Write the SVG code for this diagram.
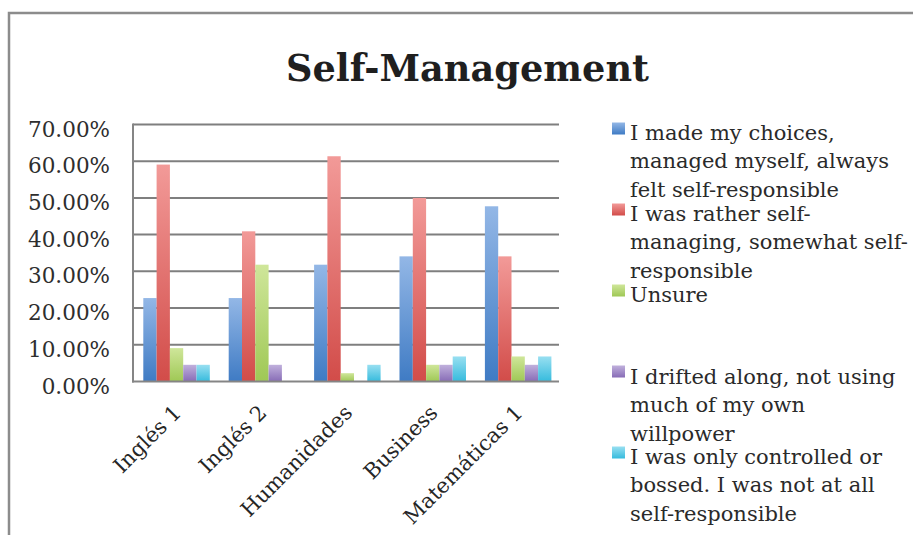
<svg xmlns="http://www.w3.org/2000/svg" width="913" height="535" viewBox="0 0 913 535">
  <style>
    .title { font-family: "DejaVu Serif", "Liberation Serif", serif; font-weight: bold; font-size: 38px; fill: #1f1f1f; }
    .ylab { font-family: "DejaVu Serif", "Liberation Serif", serif; font-size: 21.5px; fill: #2e2e2e; text-anchor: end; }
    .xlab { font-family: "DejaVu Serif", "Liberation Serif", serif; font-size: 21px; fill: #262626; text-anchor: end; }
    .leg { font-family: "DejaVu Serif", "Liberation Serif", serif; font-size: 21px; fill: #2a2a2a; }
    .grid { stroke: #7f7f7f; stroke-width: 2; fill: none; }
    .axis { stroke: #858585; stroke-width: 2; fill: none; }
    .frame { stroke: #8c8c8c; stroke-width: 2.5; fill: none; }
  </style>
  <defs>
    <linearGradient id="gb" x1="0" y1="0" x2="0" y2="1">
      <stop offset="0" stop-color="#93b7e6"/>
      <stop offset="1" stop-color="#3f7bc4"/>
    </linearGradient>
    <linearGradient id="gr" x1="0" y1="0" x2="0" y2="1">
      <stop offset="0" stop-color="#f29a98"/>
      <stop offset="1" stop-color="#d24c49"/>
    </linearGradient>
    <linearGradient id="gg" x1="0" y1="0" x2="0" y2="1">
      <stop offset="0" stop-color="#cfe69a"/>
      <stop offset="1" stop-color="#9fc855"/>
    </linearGradient>
    <linearGradient id="gp" x1="0" y1="0" x2="0" y2="1">
      <stop offset="0" stop-color="#c0b0dc"/>
      <stop offset="1" stop-color="#876cb6"/>
    </linearGradient>
    <linearGradient id="gc" x1="0" y1="0" x2="0" y2="1">
      <stop offset="0" stop-color="#98dff1"/>
      <stop offset="1" stop-color="#36bbdd"/>
    </linearGradient>
  </defs>

  <rect x="0" y="0" width="913" height="535" fill="#ffffff"/>
  <path class="frame" d="M9,540 V13 H916"/>

  <g id="title">
    <text class="title" x="467.5" y="81" text-anchor="middle" textLength="363" lengthAdjust="spacingAndGlyphs">Self-Management</text>
  </g>

  <g id="gridlines">
    <line class="grid" x1="133" y1="124.5" x2="559" y2="124.5"/>
    <line class="grid" x1="133" y1="161.2" x2="559" y2="161.2"/>
    <line class="grid" x1="133" y1="197.9" x2="559" y2="197.9"/>
    <line class="grid" x1="133" y1="234.6" x2="559" y2="234.6"/>
    <line class="grid" x1="133" y1="271.3" x2="559" y2="271.3"/>
    <line class="grid" x1="133" y1="308.1" x2="559" y2="308.1"/>
    <line class="grid" x1="133" y1="344.8" x2="559" y2="344.8"/>
  </g>

  <g id="y-axis">
    <line class="axis" x1="133" y1="123.5" x2="133" y2="382.5"/>
    <text class="ylab" x="110" y="136.5">70.00%</text>
    <text class="ylab" x="110" y="173.2">60.00%</text>
    <text class="ylab" x="110" y="209.9">50.00%</text>
    <text class="ylab" x="110" y="246.6">40.00%</text>
    <text class="ylab" x="110" y="283.3">30.00%</text>
    <text class="ylab" x="110" y="320.1">20.00%</text>
    <text class="ylab" x="110" y="356.8">10.00%</text>
    <text class="ylab" x="110" y="393.5">0.00%</text>
  </g>

  <g id="series-made-choices" fill="url(#gb)">
    <rect x="143.3" y="298.06" width="13.3" height="83.44"/>
    <rect x="228.7" y="298.06" width="13.3" height="83.44"/>
    <rect x="314.1" y="264.69" width="13.3" height="116.81"/>
    <rect x="399.5" y="256.36" width="13.3" height="125.14"/>
    <rect x="484.9" y="206.28" width="13.3" height="175.22"/>
  </g>
  <g id="series-rather-self-managing" fill="url(#gr)">
    <rect x="156.6" y="164.58" width="13.3" height="216.92"/>
    <rect x="242.0" y="231.32" width="13.3" height="150.18"/>
    <rect x="327.4" y="156.25" width="13.3" height="225.25"/>
    <rect x="412.8" y="197.95" width="13.3" height="183.55"/>
    <rect x="498.2" y="256.36" width="13.3" height="125.14"/>
  </g>
  <g id="series-unsure" fill="url(#gg)">
    <rect x="169.9" y="348.13" width="13.3" height="33.37"/>
    <rect x="255.3" y="264.69" width="13.3" height="116.81"/>
    <rect x="340.7" y="373.17" width="13.3" height="8.33"/>
    <rect x="426.1" y="364.80" width="13.3" height="16.70"/>
    <rect x="511.5" y="356.46" width="13.3" height="25.04"/>
  </g>
  <g id="series-drifted" fill="url(#gp)">
    <rect x="183.2" y="364.80" width="13.3" height="16.70"/>
    <rect x="268.6" y="364.80" width="13.3" height="16.70"/>
    <rect x="439.4" y="364.80" width="13.3" height="16.70"/>
    <rect x="524.8" y="364.80" width="13.3" height="16.70"/>
  </g>
  <g id="series-controlled" fill="url(#gc)">
    <rect x="196.5" y="364.80" width="13.3" height="16.70"/>
    <rect x="367.3" y="364.80" width="13.3" height="16.70"/>
    <rect x="452.7" y="356.46" width="13.3" height="25.04"/>
    <rect x="538.1" y="356.46" width="13.3" height="25.04"/>
  </g>

  <g id="x-axis">
    <line class="axis" x1="132" y1="381.5" x2="559" y2="381.5"/>
    <text class="xlab" transform="translate(182.5,414) rotate(-45)">Inglés 1</text>
    <text class="xlab" transform="translate(268,414) rotate(-45)">Inglés 2</text>
    <text class="xlab" transform="translate(353.5,414) rotate(-45)">Humanidades</text>
    <text class="xlab" transform="translate(439,414) rotate(-45)">Business</text>
    <text class="xlab" transform="translate(524,414) rotate(-45)">Matemáticas 1</text>
  </g>

  <g id="legend">
    <g id="legend-1">
      <rect x="612" y="122.5" width="13" height="12" fill="url(#gb)"/>
      <text class="leg" x="630" y="140">I made my choices,</text>
      <text class="leg" x="630" y="168.4">managed myself, always</text>
      <text class="leg" x="630" y="196.8">felt self-responsible</text>
    </g>
    <g id="legend-2">
      <rect x="612" y="203.5" width="13" height="12" fill="url(#gr)"/>
      <text class="leg" x="630" y="221">I was rather self-</text>
      <text class="leg" x="630" y="249.4">managing, somewhat self-</text>
      <text class="leg" x="630" y="277.8">responsible</text>
    </g>
    <g id="legend-3">
      <rect x="612" y="284.5" width="13" height="12" fill="url(#gg)"/>
      <text class="leg" x="630" y="302">Unsure</text>
    </g>
    <g id="legend-4">
      <rect x="612" y="365.5" width="13" height="12" fill="url(#gp)"/>
      <text class="leg" x="630" y="384">I drifted along, not using</text>
      <text class="leg" x="630" y="412.4">much of my own</text>
      <text class="leg" x="630" y="440.8">willpower</text>
    </g>
    <g id="legend-5">
      <rect x="612" y="446.5" width="13" height="12" fill="url(#gc)"/>
      <text class="leg" x="630" y="464">I was only controlled or</text>
      <text class="leg" x="630" y="492.4">bossed. I was not at all</text>
      <text class="leg" x="630" y="520.8">self-responsible</text>
    </g>
  </g>
</svg>
